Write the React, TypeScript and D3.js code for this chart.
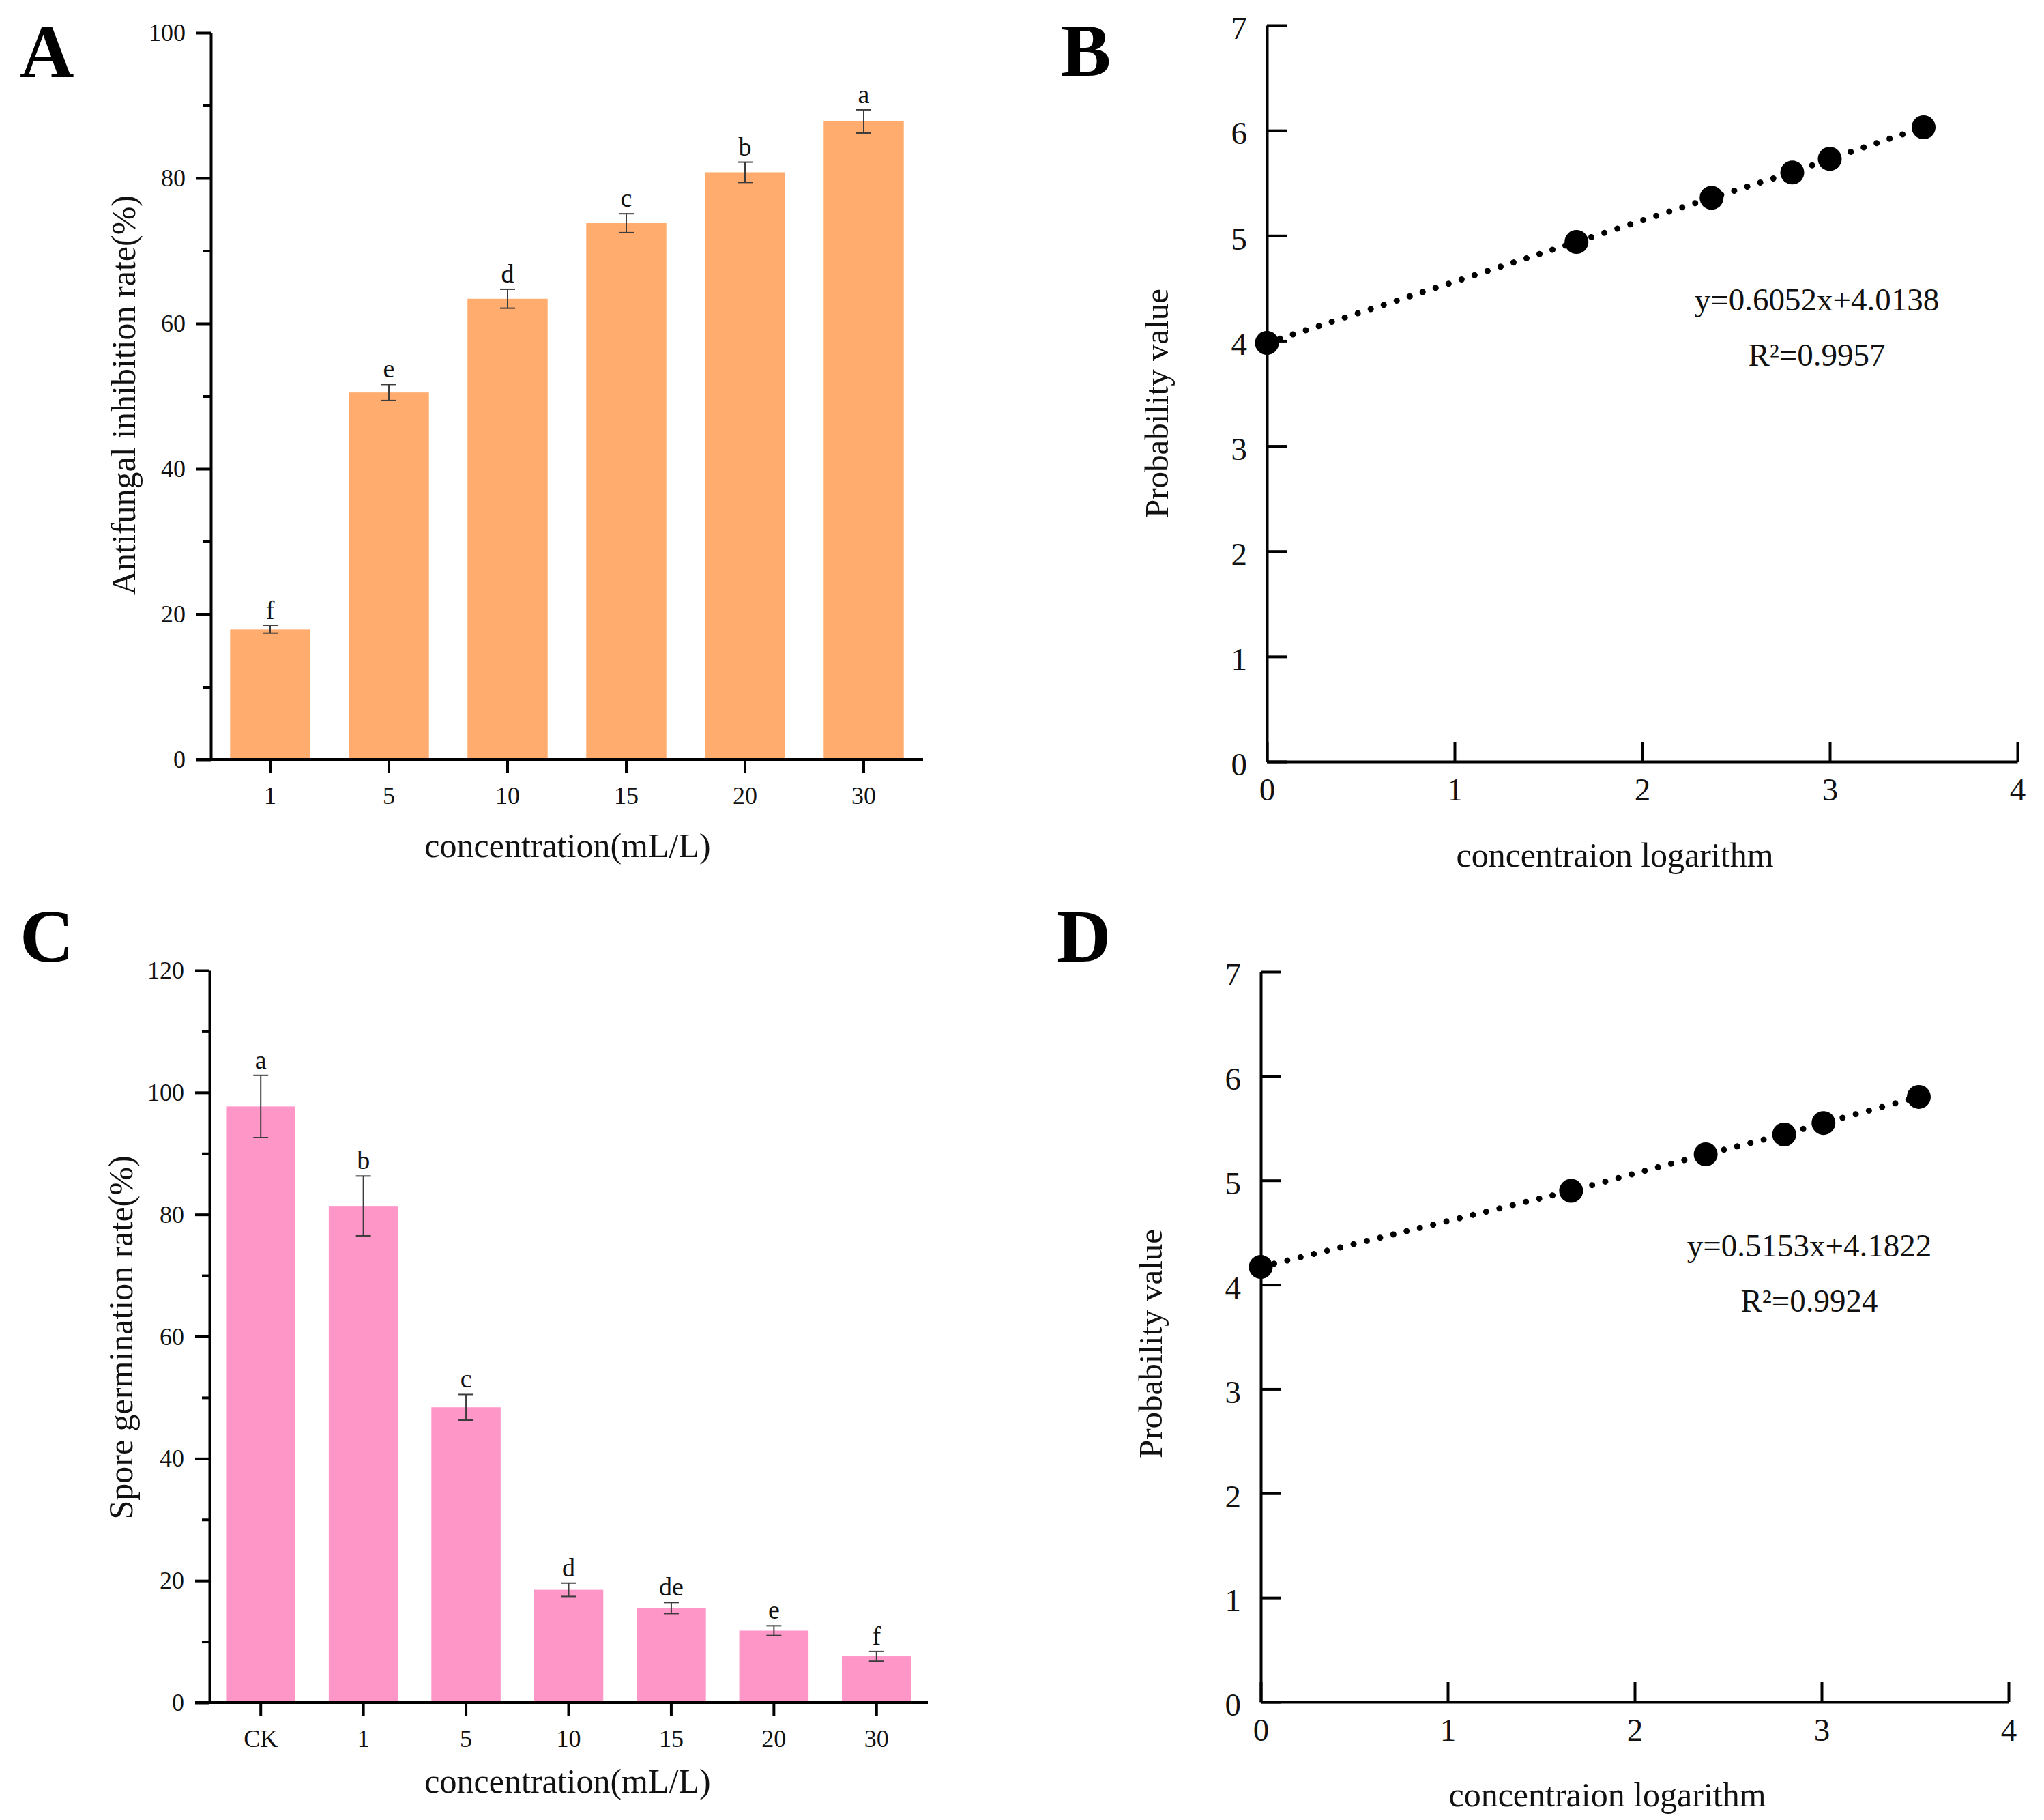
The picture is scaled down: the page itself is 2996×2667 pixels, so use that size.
import React, { useRef, useEffect } from 'react';
import * as d3 from 'd3';

// Panel A: antifungal inhibition rate
const catA = ['1', '5', '10', '15', '20', '30'];
const meanA = [17.9, 50.5, 63.4, 73.8, 80.8, 87.8];
const errA = [0.5, 1.1, 1.3, 1.3, 1.4, 1.6];
const letterA = ['f', 'e', 'd', 'c', 'b', 'a'];

// Panel C: spore germination rate
const catC = ['CK', '1', '5', '10', '15', '20', '30'];
const meanC = [97.7, 81.4, 48.4, 18.5, 15.5, 11.8, 7.6];
const errC = [5.1, 4.9, 2.1, 1.1, 0.9, 0.8, 0.8];
const letterC = ['a', 'b', 'c', 'd', 'de', 'e', 'f'];

// Panel B / D: probit vs log concentration
const logB = [0, 1.65, 2.37, 2.8, 3.0, 3.5];
const probB = [3.98, 4.94, 5.36, 5.6, 5.73, 6.03];
const logD = [0, 1.66, 2.38, 2.8, 3.01, 3.52];
const probD = [4.17, 4.9, 5.25, 5.44, 5.55, 5.8];

const W = 2996;
const H = 2667;
const SERIF = "'Liberation Serif', 'Times New Roman', serif";

type BarCfg = {
    cats: string[];
    means: number[];
    errs: number[];
    letters: string[];
    color: string;
    x0: number; x1: number; yTop: number; yBottom: number; yMax: number;
    yTitle: string; yTitlePos: [number, number];
    xTitlePos: [number, number];
};

type ProbitCfg = {
    xs: number[];
    ys: number[];
    x0: number; x1: number; yTop: number; yBottom: number;
    eq: string; r2: string; eqPos: [number, number];
    yTitlePos: [number, number];
    xTitlePos: [number, number];
};

function styleAxis(g: d3.Selection<SVGGElement, unknown, null, undefined>, size: number) {
    g.attr('font-family', SERIF).attr('font-size', size);
    g.selectAll('line').attr('stroke', '#000').attr('stroke-width', 4);
    g.selectAll('path').attr('stroke', '#000').attr('stroke-width', 4);
    g.selectAll('text').attr('fill', '#111');
}

function drawBars(svg: d3.Selection<SVGSVGElement, unknown, null, undefined>, c: BarCfg) {
    const g = svg.append('g');
    const x = d3.scaleBand<string>().domain(c.cats).range([c.x0, c.x1]).paddingInner(0.325).paddingOuter(0.1625);
    const y = d3.scaleLinear().domain([0, c.yMax]).range([c.yBottom, c.yTop]);

    // bars
    g.selectAll('rect.bar')
        .data(c.cats)
        .join('rect')
        .attr('class', 'bar')
        .attr('x', d => x(d) as number)
        .attr('y', (d, i) => y(c.means[i]))
        .attr('width', x.bandwidth())
        .attr('height', (d, i) => c.yBottom - y(c.means[i]))
        .attr('fill', c.color);

    // error bars + significance letters
    const cap = 11;
    c.cats.forEach((d, i) => {
        const cx = (x(d) as number) + x.bandwidth() / 2;
        const hi = y(c.means[i] + c.errs[i]);
        const lo = y(c.means[i] - c.errs[i]);
        const eg = g.append('g').attr('stroke', '#3c3c3c').attr('stroke-width', 2);
        eg.append('line').attr('x1', cx).attr('x2', cx).attr('y1', hi).attr('y2', lo);
        eg.append('line').attr('x1', cx - cap).attr('x2', cx + cap).attr('y1', hi).attr('y2', hi);
        eg.append('line').attr('x1', cx - cap).attr('x2', cx + cap).attr('y1', lo).attr('y2', lo);
        g.append('text')
            .attr('x', cx)
            .attr('y', hi - 10)
            .attr('text-anchor', 'middle')
            .attr('font-family', SERIF)
            .attr('font-size', 38)
            .attr('fill', '#111')
            .text(c.letters[i]);
    });

    // y axis, major + minor ticks
    const yMajor = g.append('g')
        .attr('transform', `translate(${c.x0},0)`)
        .call(d3.axisLeft(y).tickValues(d3.range(0, c.yMax + 1, 20)).tickSize(21).tickSizeOuter(0).tickPadding(16));
    styleAxis(yMajor, 36);
    const yMinor = g.append('g')
        .attr('transform', `translate(${c.x0},0)`)
        .call(d3.axisLeft(y).tickValues(d3.range(10, c.yMax, 20)).tickSize(11).tickFormat(() => ''));
    yMinor.select('.domain').remove();
    styleAxis(yMinor, 36);

    // x axis
    const xAx = g.append('g')
        .attr('transform', `translate(0,${c.yBottom})`)
        .call(d3.axisBottom(x).tickSize(20).tickPadding(19).tickSizeOuter(0));
    xAx.select('.domain').remove();
    styleAxis(xAx, 36);
    g.append('line')
        .attr('x1', c.x0 - 21).attr('x2', c.x1)
        .attr('y1', c.yBottom).attr('y2', c.yBottom)
        .attr('stroke', '#000').attr('stroke-width', 4);

    // titles
    g.append('text')
        .attr('transform', `translate(${c.yTitlePos[0]},${c.yTitlePos[1]}) rotate(-90)`)
        .attr('text-anchor', 'middle')
        .attr('font-family', SERIF)
        .attr('font-size', 50)
        .attr('fill', '#111')
        .text(c.yTitle);
    g.append('text')
        .attr('x', c.xTitlePos[0]).attr('y', c.xTitlePos[1])
        .attr('text-anchor', 'middle')
        .attr('font-family', SERIF)
        .attr('font-size', 50)
        .attr('fill', '#111')
        .text('concentration(mL/L)');
}

function drawProbit(svg: d3.Selection<SVGSVGElement, unknown, null, undefined>, c: ProbitCfg) {
    const g = svg.append('g');
    const x = d3.scaleLinear().domain([0, 4]).range([c.x0, c.x1]);
    const y = d3.scaleLinear().domain([0, 7]).range([c.yBottom, c.yTop]);

    const yAx = g.append('g')
        .attr('transform', `translate(${c.x0},0)`)
        .call(d3.axisLeft(y).ticks(7).tickSize(-29).tickSizeOuter(0).tickPadding(29));
    styleAxis(yAx, 47);
    yAx.selectAll('text').attr('dy', '0.42em');

    const xAx = g.append('g')
        .attr('transform', `translate(0,${c.yBottom})`)
        .call(d3.axisBottom(x).ticks(4).tickSize(-29).tickSizeOuter(0).tickPadding(24));
    styleAxis(xAx, 47);

    // dotted connecting line
    const line = d3.line<number>()
        .x((d, i) => x(c.xs[i]))
        .y(d => y(d));
    g.append('path')
        .datum(c.ys)
        .attr('d', line)
        .attr('fill', 'none')
        .attr('stroke', '#000')
        .attr('stroke-width', 9)
        .attr('stroke-linecap', 'round')
        .attr('stroke-dasharray', '0.01 20');

    g.selectAll('circle')
        .data(c.ys)
        .join('circle')
        .attr('cx', (d, i) => x(c.xs[i]))
        .attr('cy', d => y(d))
        .attr('r', 17.5)
        .attr('fill', '#000');

    g.append('text')
        .attr('x', c.eqPos[0]).attr('y', c.eqPos[1])
        .attr('text-anchor', 'middle')
        .attr('font-family', SERIF).attr('font-size', 47).attr('fill', '#111')
        .text(c.eq);
    g.append('text')
        .attr('x', c.eqPos[0]).attr('y', c.eqPos[1] + 81)
        .attr('text-anchor', 'middle')
        .attr('font-family', SERIF).attr('font-size', 47).attr('fill', '#111')
        .text(c.r2);

    g.append('text')
        .attr('transform', `translate(${c.yTitlePos[0]},${c.yTitlePos[1]}) rotate(-90)`)
        .attr('text-anchor', 'middle')
        .attr('font-family', SERIF).attr('font-size', 49).attr('fill', '#111')
        .text('Probability value');
    g.append('text')
        .attr('x', c.xTitlePos[0]).attr('y', c.xTitlePos[1])
        .attr('text-anchor', 'middle')
        .attr('font-family', SERIF).attr('font-size', 50).attr('fill', '#111')
        .text('concentraion logarithm');
}

const App: React.FC = () => {
    const svgRef = useRef<SVGSVGElement | null>(null);

    useEffect(() => {
        const svg = d3.select(svgRef.current as SVGSVGElement);
        svg.selectAll('*').remove();
        svg.append('rect').attr('width', W).attr('height', H).attr('fill', '#fff');

        drawBars(svg, {
            cats: catA, means: meanA, errs: errA, letters: letterA, color: '#FFAC6E',
            x0: 309, x1: 1353, yTop: 48, yBottom: 1113, yMax: 100,
            yTitle: 'Antifungal inhibition rate(%)', yTitlePos: [198, 579],
            xTitlePos: [832, 1256],
        });
        drawBars(svg, {
            cats: catC, means: meanC, errs: errC, letters: letterC, color: '#FF96C8',
            x0: 307, x1: 1360, yTop: 1422, yBottom: 2495, yMax: 120,
            yTitle: 'Spore germination rate(%)', yTitlePos: [194, 1960],
            xTitlePos: [832, 2627],
        });
        drawProbit(svg, {
            xs: logB, ys: probB,
            x0: 1857, x1: 2957, yTop: 37, yBottom: 1116,
            eq: 'y=0.6052x+4.0138', r2: 'R²=0.9957', eqPos: [2663, 455],
            yTitlePos: [1712, 591], xTitlePos: [2367, 1270],
        });
        drawProbit(svg, {
            xs: logD, ys: probD,
            x0: 1848, x1: 2944, yTop: 1424, yBottom: 2494,
            eq: 'y=0.5153x+4.1822', r2: 'R²=0.9924', eqPos: [2652, 1841],
            yTitlePos: [1703, 1969], xTitlePos: [2356, 2647],
        });

        // panel letters
        const labels: [string, number, number][] = [['A', 29, 113], ['B', 1555, 111], ['C', 29, 1409], ['D', 1549, 1409]];
        svg.selectAll('text.panel')
            .data(labels)
            .join('text')
            .attr('class', 'panel')
            .attr('x', d => d[1])
            .attr('y', d => d[2])
            .attr('font-family', SERIF)
            .attr('font-weight', 'bold')
            .attr('font-size', 110)
            .attr('fill', '#000')
            .text(d => d[0]);
    }, []);

    return (
        <div style={{ position: 'absolute', left: 0, top: 0 }}>
            <svg ref={svgRef} width={W} height={H}></svg>
        </div>
    );
};

export default App;
